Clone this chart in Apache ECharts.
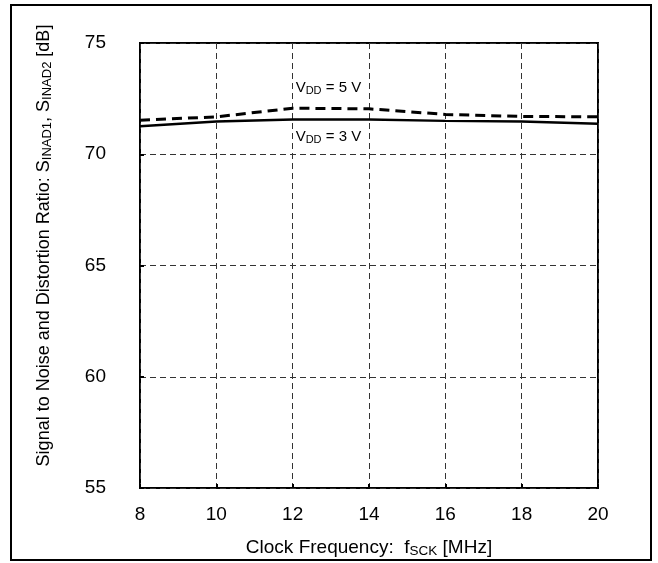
<!DOCTYPE html>
<html>
<head>
<meta charset="utf-8">
<script src="https://cdn.jsdelivr.net/npm/echarts@6/dist/echarts.min.js"></script>
<style>
html,body{margin:0;padding:0;background:#fff;}
#chart{width:658px;height:563px;}
</style>
</head>
<body>
<div id="chart"></div>
<script>
// Data
var freqMHz = [8, 10, 12, 14, 16, 18, 20];
var sinadVdd5 = [71.53, 71.68, 72.07, 72.04, 71.79, 71.70, 71.68];
var sinadVdd3 = [71.26, 71.47, 71.56, 71.56, 71.50, 71.47, 71.37];
var yTicks = [55, 60, 65, 70, 75];
var xTicks = [8, 10, 12, 14, 16, 18, 20];
var labelAt = 12;

var FONT = 'Liberation Sans, Arial, sans-serif';

function buildData(xs, ys, labelText, pos, offset) {
  return xs.map(function (x, i) {
    var item = { value: [x, ys[i]] };
    if (x === labelAt) {
      item.symbolSize = 1;
      item.label = {
        show: true,
        position: pos,
        align: 'left',
        offset: offset,
        formatter: labelText,
        fontFamily: FONT,
        fontSize: 15,
        color: '#000',
        rich: {
          sub: { fontSize: 11, fontFamily: FONT, color: '#000', verticalAlign: 'bottom', padding: [6, 0, 0, 0] }
        }
      };
    }
    return item;
  });
}

var chart = echarts.init(document.getElementById('chart'), null, { renderer: 'canvas' });
chart.setOption({
  animation: false,
  backgroundColor: '#fff',
  graphic: [{
    type: 'rect',
    shape: { x: 11, y: 5, width: 640, height: 555 },
    style: { fill: 'none', stroke: '#000', lineWidth: 2 },
    z: 100
  }],
  grid: {
    left: 140, right: 60, top: 43, bottom: 72,
    show: true, borderColor: '#000', borderWidth: 2, backgroundColor: 'transparent'
  },
  xAxis: {
    type: 'value', min: xTicks[0], max: xTicks[xTicks.length - 1], interval: 2,
    axisLine: { show: false },
    axisTick: { show: true, inside: true, length: 4, lineStyle: { color: '#000', width: 2 } },
    splitLine: { show: true, lineStyle: { color: '#333', width: 1, type: [6, 4] } },
    axisLabel: { fontFamily: FONT, fontSize: 19, color: '#000', margin: 17 },
    name: 'Clock Frequency:  f{sub|SCK} [MHz]',
    nameLocation: 'middle', nameGap: 49,
    nameTextStyle: {
      fontFamily: FONT, fontSize: 19, color: '#000',
      rich: { sub: { fontFamily: FONT, fontSize: 13.5, color: '#000', verticalAlign: 'bottom', padding: [7, 0, 0, 0] } }
    }
  },
  yAxis: {
    type: 'value', min: yTicks[0], max: yTicks[yTicks.length - 1], interval: 5,
    axisLine: { show: false },
    axisTick: { show: true, inside: true, length: 4, lineStyle: { color: '#000', width: 2 } },
    splitLine: { show: true, lineStyle: { color: '#333', width: 1, type: [6, 4] } },
    axisLabel: { fontFamily: FONT, fontSize: 19, color: '#000', margin: 34 },
    name: 'Signal to Noise and Distortion Ratio: S{sub|INAD1}, S{sub|INAD2} [dB]',
    nameLocation: 'middle', nameGap: 86, nameRotate: 90,
    nameTextStyle: {
      fontFamily: FONT, fontSize: 18, color: '#000', padding: [0, 0, 0, 40],
      rich: { sub: { fontFamily: FONT, fontSize: 13, color: '#000', verticalAlign: 'bottom', padding: [7, 0, 0, 0] } }
    }
  },
  series: [{
    name: 'VDD = 5 V',
    type: 'line',
    data: buildData(freqMHz, sinadVdd5, 'V{sub|DD} = 5 V', 'top', [3, -6]),
    symbol: 'circle', symbolSize: 0, showSymbol: true,
    itemStyle: { color: 'transparent' },
    lineStyle: { color: '#000', width: 3, type: [10, 6] },
    z: 3
  }, {
    name: 'VDD = 3 V',
    type: 'line',
    data: buildData(freqMHz, sinadVdd3, 'V{sub|DD} = 3 V', 'bottom', [3, 3]),
    symbol: 'circle', symbolSize: 0, showSymbol: true,
    itemStyle: { color: 'transparent' },
    lineStyle: { color: '#000', width: 2.5 },
    z: 3
  }]
});
</script>
</body>
</html>
